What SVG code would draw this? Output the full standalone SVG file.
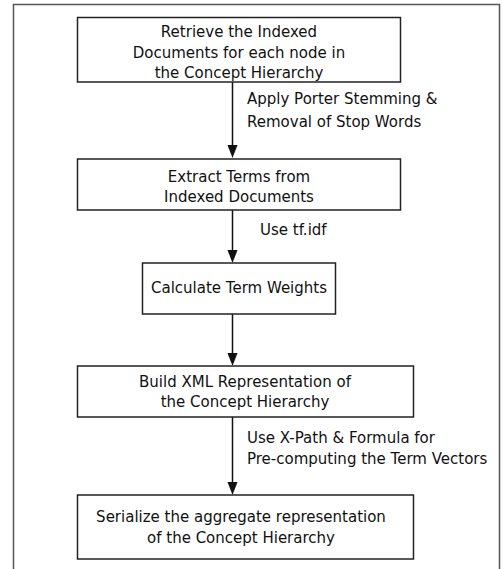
<svg xmlns="http://www.w3.org/2000/svg" width="503" height="569" viewBox="0 0 503 569">
<style>
text{font-family:"DejaVu Sans",Verdana,sans-serif;font-size:15px;fill:#111}
.c{text-anchor:middle}
.box{fill:#fff;stroke:#222;stroke-width:1.5}
.ln{stroke:#111;stroke-width:1.5;fill:none}
</style>
<defs>
<marker id="ah" markerWidth="10" markerHeight="13" refX="5" refY="13" orient="auto-start-reverse" markerUnits="userSpaceOnUse" viewBox="0 0 10 13">
<path d="M0,0 L10,0 L5,13 Z" fill="#111" transform="rotate(0)"/>
</marker>
</defs>
<rect x="0" y="0" width="503" height="569" fill="#fff"/>
<path d="M13.5,569 V4.5 H499.5 V569" fill="none" stroke="#555" stroke-width="1.5"/>
<g id="connectors">
<line class="ln" x1="232.5" y1="82" x2="232.5" y2="145"/>
<path d="M227.5,145 L237.5,145 L232.5,158 Z" fill="#111"/>
<line class="ln" x1="232.5" y1="210" x2="232.5" y2="250"/>
<path d="M227.5,250 L237.5,250 L232.5,263 Z" fill="#111"/>
<line class="ln" x1="232.5" y1="314" x2="232.5" y2="353"/>
<path d="M227.5,353 L237.5,353 L232.5,366 Z" fill="#111"/>
<line class="ln" x1="232.5" y1="417" x2="232.5" y2="482"/>
<path d="M227.5,482 L237.5,482 L232.5,495 Z" fill="#111"/>
<text x="247" y="104">Apply Porter Stemming &amp;</text>
<text x="247" y="127">Removal of Stop Words</text>
<text x="260" y="235">Use tf.idf</text>
<text x="247" y="443">Use X-Path &amp; Formula for</text>
<text x="247" y="464">Pre-computing the Term Vectors</text>
</g>
<g id="n1">
<rect class="box" x="77.5" y="17.5" width="323" height="64.5"/>
<text class="c" x="239" y="37">Retrieve the Indexed</text>
<text class="c" x="239" y="58">Documents for each node in</text>
<text class="c" x="239" y="78">the Concept Hierarchy</text>
</g>
<g id="n2">
<rect class="box" x="77.5" y="159" width="323" height="51"/>
<text class="c" x="239" y="182">Extract Terms from</text>
<text class="c" x="239" y="202">Indexed Documents</text>
</g>
<g id="n3">
<rect class="box" x="142.5" y="263" width="193" height="51"/>
<text class="c" x="239" y="293">Calculate Term Weights</text>
</g>
<g id="n4">
<rect class="box" x="77.5" y="366" width="336" height="51"/>
<text class="c" x="245" y="387">Build XML Representation of</text>
<text class="c" x="245" y="407">the Concept Hierarchy</text>
</g>
<g id="n5">
<rect class="box" x="77.5" y="495" width="336" height="64"/>
<text class="c" x="241" y="522">Serialize the aggregate representation</text>
<text class="c" x="241" y="543">of the Concept Hierarchy</text>
</g>
</svg>
